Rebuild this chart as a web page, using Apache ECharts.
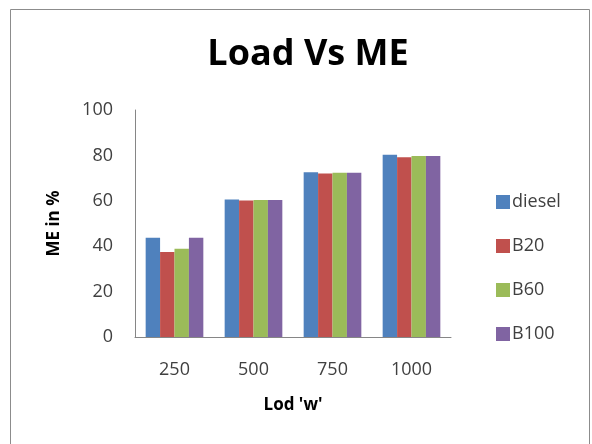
<!DOCTYPE html>
<html>
<head>
<meta charset="utf-8">
<script src="https://cdn.jsdelivr.net/npm/echarts@6/dist/echarts.min.js"></script>
<style>html,body{margin:0;padding:0;background:#fff;}#c{width:592px;height:444px;}</style>
</head>
<body>
<div id="c"></div>
<script>
const categories = ['250', '500', '750', '1000'];
const seriesNames = ['diesel', 'B20', 'B60', 'B100'];
const diesel = [43.7, 60.6, 72.6, 80.3];
const b20 = [37.5, 60.1, 72.0, 79.2];
const b60 = [38.9, 60.4, 72.4, 79.7];
const b100 = [43.7, 60.4, 72.4, 79.7];
const yTicks = [0, 20, 40, 60, 80, 100];
const colors = ['#4F81BD', '#C0504D', '#9BBB59', '#8064A2'];

const FONT = '"Open Sans", sans-serif';
const chart = echarts.init(document.getElementById('c'));
const values = [diesel, b20, b60, b100];
chart.setOption({
  animation: false,
  backgroundColor: '#fff',
  graphic: [{
    type: 'rect', left: 8, top: 7,
    shape: { width: 579, height: 460 },
    style: { fill: 'none', stroke: '#8c8c8c', lineWidth: 1 }
  }],
  title: {
    text: 'Load Vs ME', left: 303, textAlign: 'center', top: 32,
    textStyle: { fontFamily: FONT, fontWeight: 'bold', fontSize: 36, color: '#000' }
  },
  legend: {
    orient: 'vertical', left: 491, top: 188,
    itemWidth: 14, itemHeight: 14, itemGap: 26,
    icon: 'rect',
    data: seriesNames,
    textStyle: { fontFamily: FONT, fontSize: 18, color: '#404040', padding: [0, 0, 0, -3] }
  },
  grid: { left: 135, right: 141, top: 110, bottom: 107 },
  xAxis: {
    type: 'category', data: categories,
    name: "Lod 'w'", nameLocation: 'middle', nameGap: 60,
    nameTextStyle: { fontFamily: FONT, fontWeight: 'bold', fontSize: 17, color: '#000' },
    axisLine: { lineStyle: { color: '#868686' } },
    axisTick: { show: false },
    axisLabel: { fontFamily: FONT, fontSize: 18, color: '#404040', margin: 24 }
  },
  yAxis: {
    type: 'value', min: yTicks[0], max: yTicks[yTicks.length - 1], interval: 20,
    name: 'ME in %', nameLocation: 'middle', nameGap: 72, nameRotate: 90,
    nameTextStyle: { fontFamily: FONT, fontWeight: 'bold', fontSize: 17, color: '#000' },
    axisLine: { show: true, lineStyle: { color: '#868686' } },
    axisTick: { show: false },
    splitLine: { show: false },
    axisLabel: { fontFamily: FONT, fontSize: 18, color: '#404040', margin: 22 }
  },
  series: seriesNames.map((n, i) => ({
    name: n, type: 'bar', data: values[i],
    barGap: '0%', barCategoryGap: '27%',
    itemStyle: { color: colors[i] }
  }))
});
</script>
</body>
</html>
